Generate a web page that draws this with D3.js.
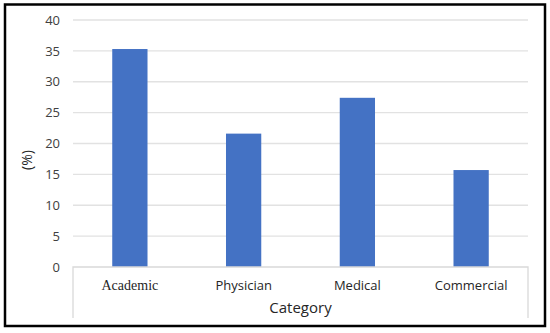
<!DOCTYPE html>
<html>
<head>
<meta charset="utf-8">
<script src="https://cdn.jsdelivr.net/npm/d3@7"></script>
<style>
  body { margin: 0; background: #fff; }
  svg { display: block; }
</style>
</head>
<body>
<script>
// chart data
var categories = ["Academic", "Physician", "Medical", "Commercial"];
var values = [35.3, 21.6, 27.4, 15.7];
var yTicks = [0, 5, 10, 15, 20, 25, 30, 35, 40];

var w = 550;
var h = 333;
var plotLeft = 73, plotRight = 528, plotTop = 20, plotBottom = 267;

var svg = d3.select("body")
            .append("svg")
            .attr("width", w)
            .attr("height", h);

svg.append("rect")
    .attr("width", w).attr("height", h)
    .attr("fill", "#fff");

var x = d3.scaleBand()
          .domain(categories)
          .range([plotLeft, plotRight])
          .paddingInner(0.69)
          .paddingOuter(0.345);

var y = d3.scaleLinear()
          .domain([0, 40])
          .range([plotBottom, plotTop]);

// gridlines
svg.selectAll("line.grid")
    .data(yTicks.slice(1))
    .enter()
    .append("line")
    .attr("class", "grid")
    .attr("x1", plotLeft).attr("x2", plotRight)
    .attr("y1", function(d) { return y(d); })
    .attr("y2", function(d) { return y(d); })
    .attr("stroke", "#e2e2e2")
    .attr("stroke-width", 1.3);

// y tick labels
var yAxis = svg.append("g")
    .attr("transform", "translate(" + (plotLeft - 13) + ",0)")
    .call(d3.axisLeft(y).tickValues(yTicks).tickSize(0).tickPadding(0));
yAxis.select(".domain").remove();
yAxis.selectAll("text")
    .attr("font-family", "'Open Sans', sans-serif")
    .attr("font-size", "13px")
    .attr("fill", "#404040");

// bars
svg.selectAll("rect.bar")
    .data(values)
    .enter()
    .append("rect")
    .attr("class", "bar")
    .attr("x", function(d, i) { return x(categories[i]); })
    .attr("y", function(d) { return y(d); })
    .attr("width", x.bandwidth())
    .attr("height", function(d) { return plotBottom - y(d); })
    .attr("fill", "#4472c4");

// category axis box
svg.append("path")
    .attr("d", "M" + plotLeft + "," + 318 + "V" + plotBottom + "H" + plotRight + "V" + 318)
    .attr("fill", "none")
    .attr("stroke", "#d9d9d9")
    .attr("stroke-width", 1.3);

// category labels
svg.selectAll("text.cat")
    .data(categories)
    .enter()
    .append("text")
    .attr("class", "cat")
    .attr("x", function(d) { return x(d) + x.bandwidth() / 2; })
    .attr("y", 290)
    .attr("text-anchor", "middle")
    .attr("font-family", function(d, i) {
        return i == 0 ? "'Liberation Serif', serif" : "'Open Sans', sans-serif";
    })
    .attr("font-size", function(d, i) { return i == 0 ? "14px" : "13px"; })
    .attr("fill", "#262626")
    .text(function(d) { return d; });

// axis titles
svg.append("text")
    .attr("x", (plotLeft + plotRight) / 2)
    .attr("y", 313)
    .attr("text-anchor", "middle")
    .attr("font-family", "'Open Sans', sans-serif")
    .attr("font-size", "15px")
    .attr("fill", "#262626")
    .text("Category");

svg.append("text")
    .attr("transform", "translate(32,160) rotate(-90)")
    .attr("text-anchor", "middle")
    .attr("font-family", "'Open Sans', sans-serif")
    .attr("font-size", "14px")
    .attr("fill", "#262626")
    .text("(%)");

// outer border
svg.append("rect")
    .attr("x", 5).attr("y", 4.5)
    .attr("width", 540).attr("height", 321.5)
    .attr("fill", "none")
    .attr("stroke", "#000")
    .attr("stroke-width", 2.5);
</script>
</body>
</html>
